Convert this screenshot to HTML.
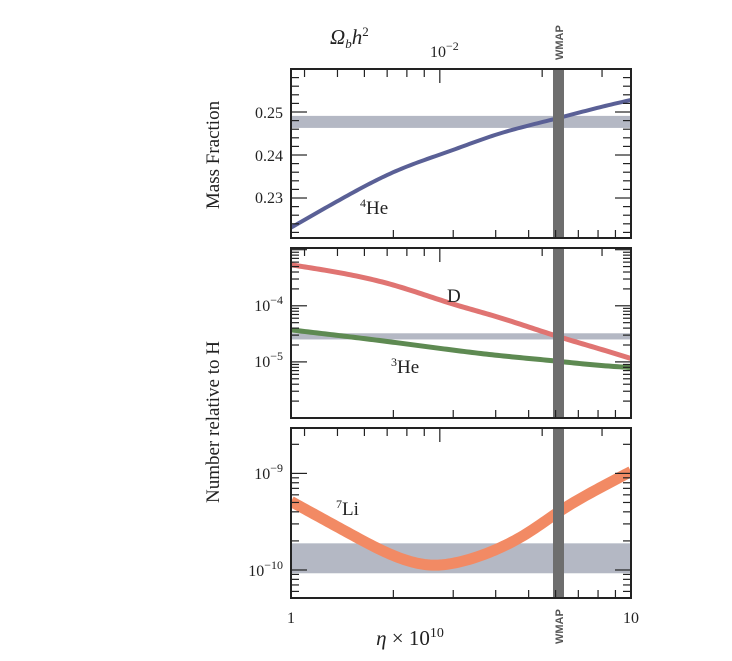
<!DOCTYPE html>
<html><head><meta charset="utf-8"><style>
body{margin:0;background:#fff}
svg{display:block;font-family:"Liberation Serif",serif}
</style></head><body>
<svg id="c" width="732" height="661"></svg>
<script>
const he4Eta=[1,1.5,2,3,4,6.12,8,10];
const he4Vals=[0.2231,0.2310,0.2360,0.2412,0.2447,0.2486,0.2510,0.2528];
const dEta=[1,2,3,4,6.12,8,10];
const dLog=[-3.27,-3.63,-3.97,-4.19,-4.55,-4.76,-4.94];
const he3Eta=[1,2,3,4,6.12,8,10];
const he3Log=[-4.43,-4.65,-4.79,-4.88,-4.99,-5.06,-5.10];
const liEta=[1,1.5,2,2.68,3,4,5,6.12,8,10];
const liLog=[-9.29,-9.63,-9.85,-9.95,-9.93,-9.79,-9.61,-9.40,-9.16,-8.98];
const he4Band=[0.2463,0.2491];
const dBand=[-4.60,-4.49];
const liBand=[-10.034,-9.724];
const wmapEta=6.12;
const omegaTicks=[0.004,0.005,0.006,0.007,0.008,0.009,0.01,0.02,0.03];
const etaTicks=[2,3,4,5,6,7,8,9];

const NS="http://www.w3.org/2000/svg";
const svg=document.getElementById('c');
function el(t,a,p){const e=document.createElementNS(NS,t);for(const k in a)e.setAttribute(k,a[k]);(p||svg).appendChild(e);return e;}
const X0=291,X1=631;
const xs=e=>X0+(X1-X0)*Math.log10(e);
const panels=[
 {name:'helium4-panel',top:69,bot:238,lo:0.2207,hi:0.26,log:false},
 {name:'d-he3-panel',top:248,bot:418,lo:-6.0,hi:-2.97,log:true},
 {name:'lithium-panel',top:428,bot:598,lo:-10.29,hi:-8.53,log:true}];
panels.forEach(p=>p.y=v=>p.bot-(v-p.lo)/(p.hi-p.lo)*(p.bot-p.top));
function spline(xa,ya){const n=xa.length,h=[],a=[],l=[1],mu=[0],z=[0],c=new Array(n).fill(0),b=[],d=[];
 for(let i=0;i<n-1;i++)h[i]=xa[i+1]-xa[i];
 for(let i=1;i<n-1;i++)a[i]=3/h[i]*(ya[i+1]-ya[i])-3/h[i-1]*(ya[i]-ya[i-1]);
 for(let i=1;i<n-1;i++){l[i]=2*(xa[i+1]-xa[i-1])-h[i-1]*mu[i-1];mu[i]=h[i]/l[i];z[i]=(a[i]-h[i-1]*z[i-1])/l[i];}
 for(let j=n-2;j>=0;j--){c[j]=(z[j]||0)-(mu[j]||0)*c[j+1];b[j]=(ya[j+1]-ya[j])/h[j]-h[j]*(c[j+1]+2*c[j])/3;d[j]=(c[j+1]-c[j])/(3*h[j]);}
 return x=>{let j=0;while(j<n-2&&x>xa[j+1])j++;const t=x-xa[j];return ya[j]+b[j]*t+c[j]*t*t+d[j]*t*t*t;};}
function path(ex,vals,ys){const lx=ex.map(Math.log10);const f=spline(lx,vals);let d='';
 for(let k=0;k<=120;k++){const u=lx[0]+(lx[lx.length-1]-lx[0])*k/120;d+=(k?'L':'M')+(X0+(X1-X0)*u).toFixed(2)+','+ys(f(u)).toFixed(2);}return d;}
const clip=el('defs',{});
panels.forEach((p,i)=>{const cp=el('clipPath',{id:'cp'+i},clip);el('rect',{x:X0,y:p.top,width:X1-X0,height:p.bot-p.top},cp);});
function band(p,i,b,name){const r=el('rect',{x:X0,y:p.y(b[1]),width:X1-X0,height:p.y(b[0])-p.y(b[1]),fill:'#b4b8c4','clip-path':'url(#cp'+i+')'});}
band(panels[0],0,he4Band,'he4-observed-band');
band(panels[1],1,dBand,'d-observed-band');
band(panels[2],2,liBand,'li-observed-band');
function curve(i,ex,vals,col,w,name){const p=panels[i];const c=el('path',{d:path(ex,vals,p.y),fill:'none',stroke:col,'stroke-width':w,'stroke-linejoin':'round','clip-path':'url(#cp'+i+')'});}
curve(0,he4Eta,he4Vals,'#5a6096',4,'he4-curve');
curve(1,dEta,dLog,'#e07472',5,'deuterium-curve');
curve(1,he3Eta,he3Log,'#5e8a52',5,'he3-curve');
curve(2,liEta,liLog,'#f28a64',11,'li7-curve');
panels.forEach((p,i)=>{const r=el('rect',{x:xs(wmapEta)-5.5,y:p.top,width:11,height:p.bot-p.top,fill:'#6e6e6e'});});
panels.forEach((p,i)=>{
 const g=el('g',{stroke:'#222','stroke-width':1.2,fill:'none'});
 
 el('rect',{x:X0,y:p.top,width:X1-X0,height:p.bot-p.top,'stroke-width':2},g);
 omegaTicks.forEach(o=>{const x=xs(o/0.00365);const L=o===0.01?14:8;el('line',{x1:x,x2:x,y1:p.top,y2:p.top+L},g);});
 etaTicks.forEach(e=>{const x=xs(e);el('line',{x1:x,x2:x,y1:p.bot,y2:p.bot-8},g);});
 const yt=[];
 if(!p.log){for(let v=0.222;v<0.26;v+=0.002){const vv=Math.round(v*1000)/1000;yt.push([vv,Math.abs(vv*100-Math.round(vv*100))<1e-6?16:8]);}}
 else{for(let d=Math.floor(p.lo);d<=Math.ceil(p.hi);d++)for(let m=1;m<10;m++){const v=d+Math.log10(m);if(v>p.lo&&v<p.hi)yt.push([v,m===1?16:8]);}}
 yt.forEach(([v,L])=>{const y=p.y(v);el('line',{x1:X0,x2:X0+L,y1:y,y2:y},g);el('line',{x1:X1,x2:X1-L,y1:y,y2:y},g);});
});
function txt(x,y,s,name,o){const t=el('text',Object.assign({x:x,y:y,'font-size':16,fill:'#222'},o||{}));t.innerHTML=s;return t;}
txt(283,118,'0.25','y-tick-0.25',{'text-anchor':'end'});
txt(283,161,'0.24','y-tick-0.24',{'text-anchor':'end'});
txt(283,203,'0.23','y-tick-0.23',{'text-anchor':'end'});
txt(283,311,'10<tspan dy="-7" font-size="12">−4</tspan>','y-tick-1e-4',{'text-anchor':'end'});
txt(283,367,'10<tspan dy="-7" font-size="12">−5</tspan>','y-tick-1e-5',{'text-anchor':'end'});
txt(283,479,'10<tspan dy="-7" font-size="12">−9</tspan>','y-tick-1e-9',{'text-anchor':'end'});
txt(283,576,'10<tspan dy="-7" font-size="12">−10</tspan>','y-tick-1e-10',{'text-anchor':'end'});
txt(291,623,'1','x-tick-1',{'text-anchor':'middle'});
txt(631,623,'10','x-tick-10',{'text-anchor':'middle'});
txt(430,57,'10<tspan dy="-7" font-size="12">−2</tspan>','top-tick-1e-2');
txt(330,44,'<tspan font-style="italic">Ω</tspan><tspan font-size="13" dy="4" font-style="italic">b</tspan><tspan dy="-4" font-style="italic">h</tspan><tspan dy="-8" font-size="13">2</tspan>','top-axis-title',{'font-size':21});
txt(410,645,'<tspan font-style="italic">η</tspan> × 10<tspan dy="-8" font-size="14">10</tspan>','x-axis-title',{'font-size':21,'text-anchor':'middle'});
txt(219,155,'Mass Fraction','y-axis-title-mass',{'font-size':19,'text-anchor':'middle',transform:'rotate(-90 219 155)'});
txt(219,422,'Number relative to H','y-axis-title-number',{'font-size':19,'text-anchor':'middle',transform:'rotate(-90 219 422)'});
txt(360,214,'<tspan font-size="12" dy="-7">4</tspan><tspan dy="7">He</tspan>','he4-label',{'font-size':19});
txt(447,302,'D','d-label',{'font-size':19});
txt(391,373,'<tspan font-size="12" dy="-7">3</tspan><tspan dy="7">He</tspan>','he3-label',{'font-size':19});
txt(336,515,'<tspan font-size="12" dy="-7">7</tspan><tspan dy="7">Li</tspan>','li7-label',{'font-size':19});
txt(0,0,'WMAP','wmap-label-top',{'font-size':11,'font-family':'Liberation Sans,sans-serif','font-weight':'bold',fill:'#555',transform:'translate(563,60) rotate(-90)'});
txt(0,0,'WMAP','wmap-label-bottom',{'font-size':11,'font-family':'Liberation Sans,sans-serif','font-weight':'bold',fill:'#555',transform:'translate(563,644) rotate(-90)'});
</script>
</body></html>
